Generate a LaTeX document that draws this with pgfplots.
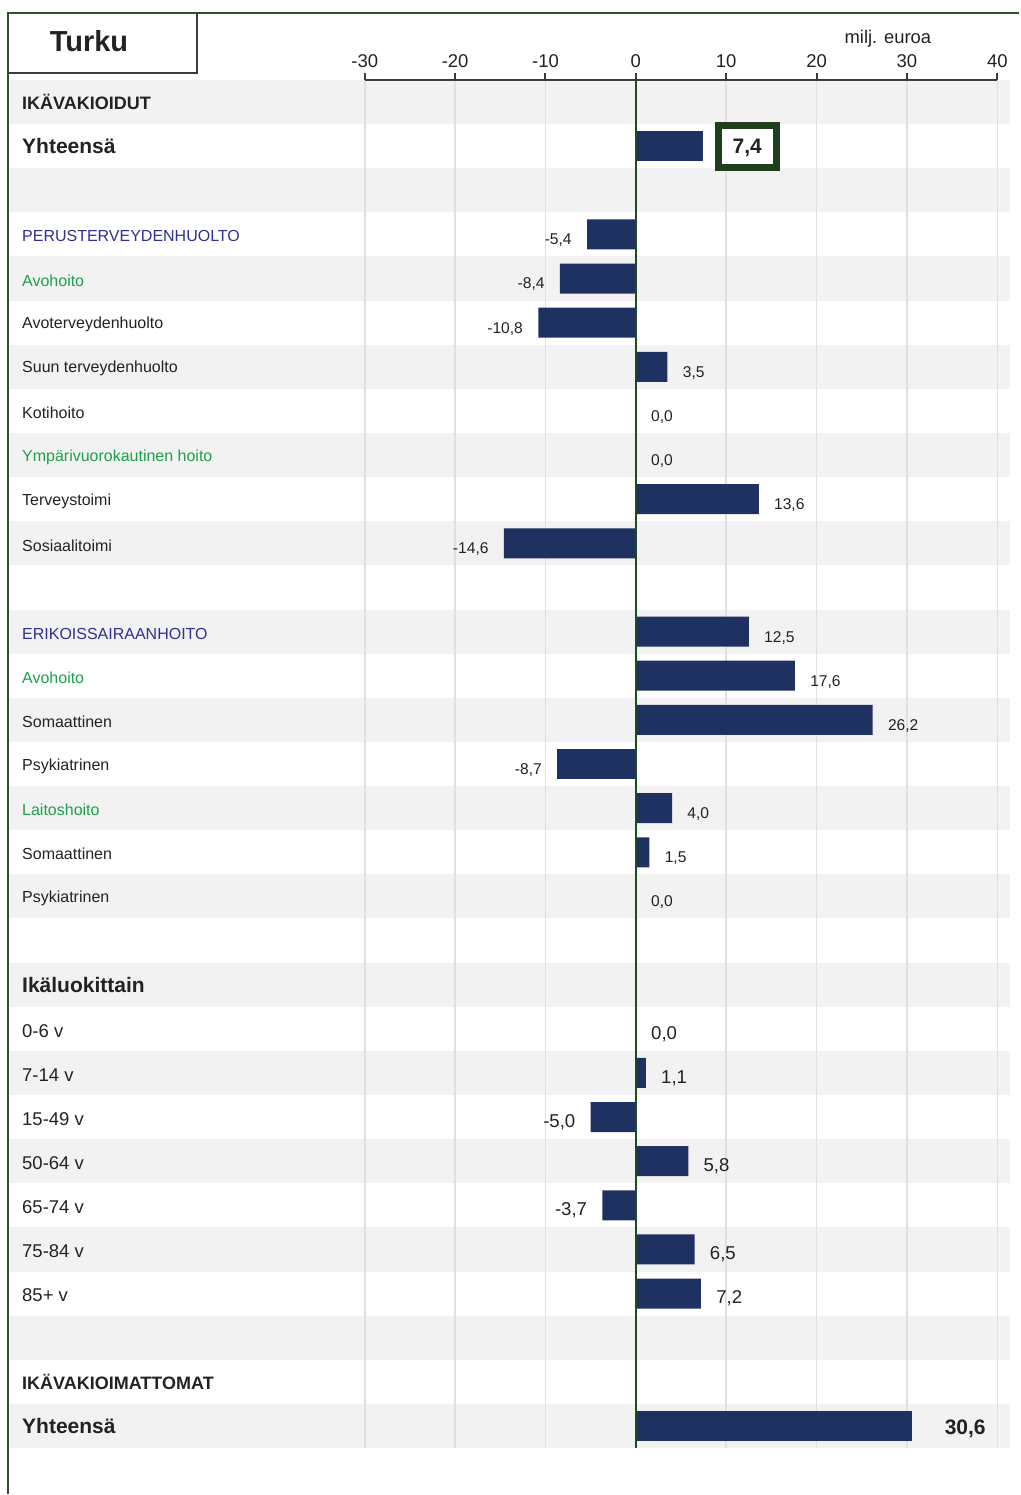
\documentclass[border=0pt]{standalone}
\usepackage{fontspec}
\setmainfont{Liberation Sans}
\usepackage{pgfplots}
\pgfplotsset{compat=1.18}
\definecolor{barblue}{RGB}{31,49,96}
\definecolor{textdark}{RGB}{34,34,34}
\definecolor{headblue}{RGB}{46,49,146}
\definecolor{headgreen}{RGB}{30,160,75}
\definecolor{framegreen}{RGB}{45,85,45}
\definecolor{zerogreen}{RGB}{30,75,30}
\definecolor{boxgreen}{RGB}{30,62,30}
\definecolor{stripe}{RGB}{242,242,242}
\definecolor{gridgray}{RGB}{224,224,224}
\definecolor{axisgray}{RGB}{60,60,60}
\newcommand\fs[1]{\fontsize{#1}{#1}\selectfont}
\begin{document}
\begin{tikzpicture}
\begin{axis}[
  set layers,
  at={(0.5pt,0pt)}, anchor=north west,
  scale only axis, width=316.5pt, height=684.5pt,
  xmin=-30, xmax=40, ymin=0.5, ymax=31.5, y dir=reverse,
  clip=false,
  axis x line*=top, axis y line=none,
  xtick={-30,-20,-10,0,10,20,30,40},
  ytick=\empty,
  tick align=outside, major tick length=3.5pt,
  x axis line style={draw=axisgray, line width=1pt},
  xtick style={draw=axisgray, line width=1pt},
  xmajorgrids, major grid style={draw=gridgray, line width=0.8pt},
  xticklabel style={font=\fs{9.25}, text=textdark, yshift=-1pt, /pgf/number format/assume math mode=true},
  every axis plot/.append style={xbar, bar width=15pt, bar shift=0pt, fill=barblue, draw=none, mark=none},
  nodes near coords={\pgfmathprintnumber[fixed, fixed zerofill, precision=1, use comma, assume math mode=true]{\pgfplotspointmeta}},
  point meta=x,
]
\begin{pgfonlayer}{axis background}
\fill[stripe] (axis cs:-69.43,0.5) rectangle (axis cs:41.43,1.5);
\fill[stripe] (axis cs:-69.43,2.5) rectangle (axis cs:41.43,3.5);
\fill[stripe] (axis cs:-69.43,4.5) rectangle (axis cs:41.43,5.5);
\fill[stripe] (axis cs:-69.43,6.5) rectangle (axis cs:41.43,7.5);
\fill[stripe] (axis cs:-69.43,8.5) rectangle (axis cs:41.43,9.5);
\fill[stripe] (axis cs:-69.43,10.5) rectangle (axis cs:41.43,11.5);
\fill[stripe] (axis cs:-69.43,12.5) rectangle (axis cs:41.43,13.5);
\fill[stripe] (axis cs:-69.43,14.5) rectangle (axis cs:41.43,15.5);
\fill[stripe] (axis cs:-69.43,16.5) rectangle (axis cs:41.43,17.5);
\fill[stripe] (axis cs:-69.43,18.5) rectangle (axis cs:41.43,19.5);
\fill[stripe] (axis cs:-69.43,20.5) rectangle (axis cs:41.43,21.5);
\fill[stripe] (axis cs:-69.43,22.5) rectangle (axis cs:41.43,23.5);
\fill[stripe] (axis cs:-69.43,24.5) rectangle (axis cs:41.43,25.5);
\fill[stripe] (axis cs:-69.43,26.5) rectangle (axis cs:41.43,27.5);
\fill[stripe] (axis cs:-69.43,28.5) rectangle (axis cs:41.43,29.5);
\fill[stripe] (axis cs:-69.43,30.5) rectangle (axis cs:41.43,31.5);
\end{pgfonlayer}

% Yhteensa (ikavakioidut)
\addplot[nodes near coords style={font=\fs{10.5}\bfseries, text=textdark, draw=boxgreen, line width=3.5pt, fill=white,
   minimum width=29pt, minimum height=21pt, inner sep=0pt, text height=7.5pt, text depth=0pt, xshift=6pt}]
 coordinates {(7.4,2)};
% perusterveydenhuolto & erikoissairaanhoito
\addplot[nodes near coords style={font=\fs{7.8}, text=textdark, inner xsep=7.5pt, inner ysep=0pt, yshift=-3pt}]
 coordinates {(-5.4,4) (-8.4,5) (-10.8,6) (3.5,7) (0,8) (0,9) (13.6,10) (-14.6,11)
              (12.5,13) (17.6,14) (26.2,15) (-8.7,16) (4.0,17) (1.5,18) (0,19)};
% ikaluokittain
\addplot[nodes near coords style={font=\fs{9.3}, text=textdark, inner xsep=7.5pt, inner ysep=0pt, yshift=-2.5pt}]
 coordinates {(0,22) (1.1,23) (-5.0,24) (5.8,25) (-3.7,26) (6.5,27) (7.2,28)};
% ikavakioimattomat
\addplot[nodes near coords style={font=\fs{10.5}\bfseries, text=textdark, inner xsep=0pt, inner ysep=0pt, xshift=16pt, yshift=-1.5pt}]
 coordinates {(30.6,31)};

\draw[zerogreen, line width=0.8pt] (axis cs:0,0.5) -- (axis cs:0,31.5);
\node[font=\fs{9.2}, text=textdark, yshift=20.5pt] at (axis cs:27.89,0.5) {milj. euroa};

\begin{scope}[every node/.style={anchor=west, inner sep=0pt, text=textdark, yshift=-1pt}]
\node[font=\fs{9}\bfseries, yshift=1pt] at (axis cs:-67.95,1) {IKÄVAKIOIDUT};
\node[font=\fs{10.5}\bfseries, yshift=1pt] at (axis cs:-67.95,2) {Yhteensä};
\node[font=\fs{8}, text=headblue] at (axis cs:-67.95,4) {PERUSTERVEYDENHUOLTO};
\node[font=\fs{8}, text=headgreen] at (axis cs:-67.95,5) {Avohoito};
\node[font=\fs{8}] at (axis cs:-67.95,6) {Avoterveydenhuolto};
\node[font=\fs{8}] at (axis cs:-67.95,7) {Suun terveydenhuolto};
\node[font=\fs{8}] at (axis cs:-67.95,8) {Kotihoito};
\node[font=\fs{8}, text=headgreen] at (axis cs:-67.95,9) {Ympärivuorokautinen hoito};
\node[font=\fs{8}] at (axis cs:-67.95,10) {Terveystoimi};
\node[font=\fs{8}] at (axis cs:-67.95,11) {Sosiaalitoimi};
\node[font=\fs{8}, text=headblue] at (axis cs:-67.95,13) {ERIKOISSAIRAANHOITO};
\node[font=\fs{8}, text=headgreen] at (axis cs:-67.95,14) {Avohoito};
\node[font=\fs{8}] at (axis cs:-67.95,15) {Somaattinen};
\node[font=\fs{8}] at (axis cs:-67.95,16) {Psykiatrinen};
\node[font=\fs{8}, text=headgreen] at (axis cs:-67.95,17) {Laitoshoito};
\node[font=\fs{8}] at (axis cs:-67.95,18) {Somaattinen};
\node[font=\fs{8}] at (axis cs:-67.95,19) {Psykiatrinen};
\node[font=\fs{10.5}\bfseries, yshift=1pt] at (axis cs:-67.95,21) {Ikäluokittain};
\node[font=\fs{9.25}] at (axis cs:-67.95,22) {0-6 v};
\node[font=\fs{9.25}] at (axis cs:-67.95,23) {7-14 v};
\node[font=\fs{9.25}] at (axis cs:-67.95,24) {15-49 v};
\node[font=\fs{9.25}] at (axis cs:-67.95,25) {50-64 v};
\node[font=\fs{9.25}] at (axis cs:-67.95,26) {65-74 v};
\node[font=\fs{9.25}] at (axis cs:-67.95,27) {75-84 v};
\node[font=\fs{9.25}] at (axis cs:-67.95,28) {85+ v};
\node[font=\fs{9}\bfseries, yshift=1pt] at (axis cs:-67.95,30) {IKÄVAKIOIMATTOMAT};
\node[font=\fs{10.5}\bfseries, yshift=1pt] at (axis cs:-67.95,31) {Yhteensä};
\end{scope}
\end{axis}
% frame
\draw[framegreen, line width=1pt] (-178pt,-707.5pt) -- (-178pt,33.5pt) -- (328pt,33.5pt);
\draw[axisgray, line width=0.9pt] (-178pt,3.5pt) -- (-83.5pt,3.5pt) -- (-83.5pt,33.5pt);
\node[font=\fs{14.5}\bfseries, text=textdark] at (-137.5pt,19.5pt) {Turku};
\path (-182pt,40pt) rectangle (328pt,-707.5pt);
\end{tikzpicture}
\end{document}
